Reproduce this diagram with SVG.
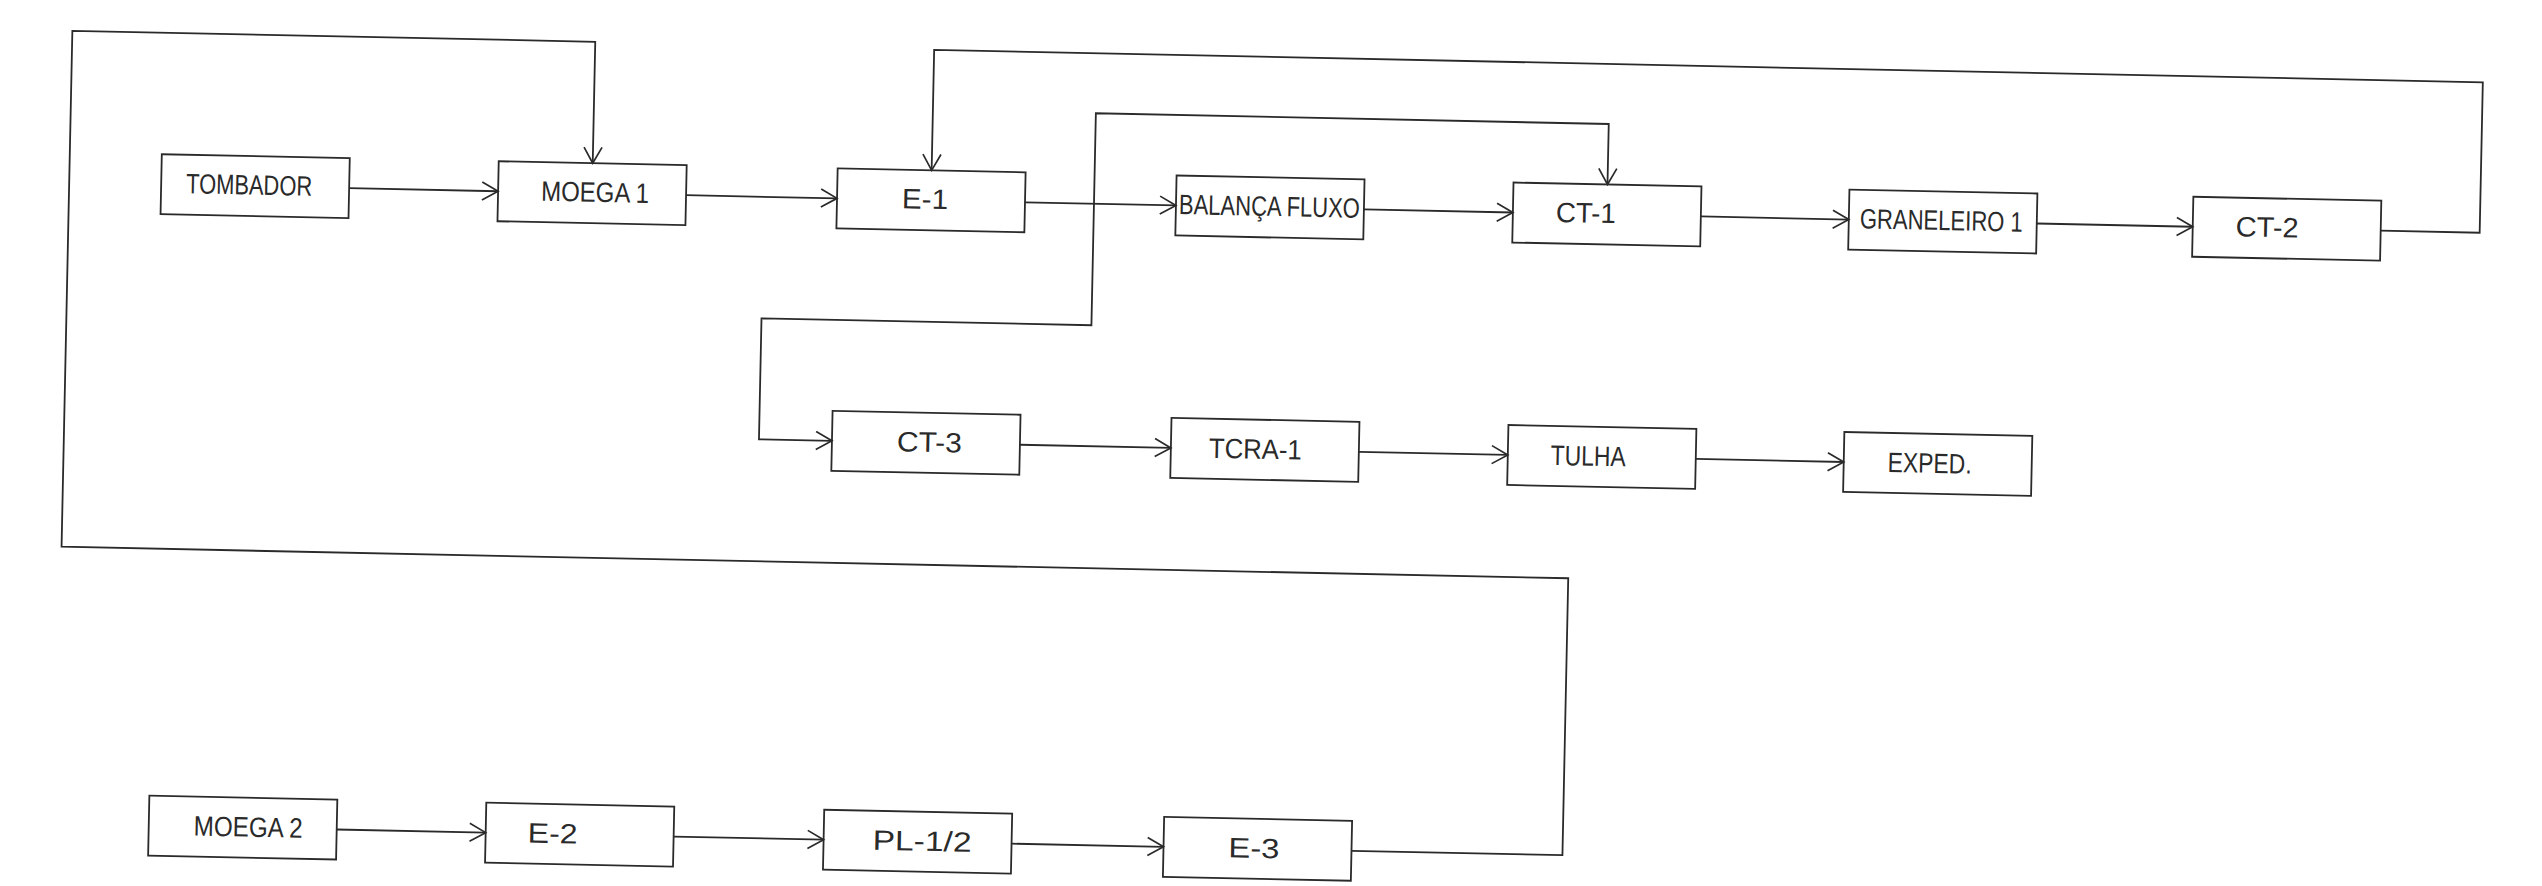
<svg xmlns="http://www.w3.org/2000/svg" width="2542" height="886" viewBox="0 0 2542 886">
<style>
.box{fill:none;stroke:#2a2a2a;stroke-width:1.8}
.lbl{font-family:"Liberation Sans",Arial,sans-serif;font-size:28px;fill:#2a2a2a}
.con{fill:none;stroke:#2a2a2a;stroke-width:1.8}
</style>
<defs>
<marker id="arr" markerUnits="userSpaceOnUse" viewBox="-19 -11 21 22" refX="0" refY="0" markerWidth="21" markerHeight="22" orient="auto-start-reverse">
<path d="M-16,-9 L0,0 L-16,9" fill="none" stroke="#2a2a2a" stroke-width="1.7"/>
</marker>
</defs>
<rect width="2542" height="886" fill="#fff"/>
<g transform="rotate(1.2 1271 443)">
<g id="connectors">
<path class="con" marker-end="url(#arr)" d="M344,207.5 H493"/>
<path class="con" marker-end="url(#arr)" d="M681,207.5 H832"/>
<path class="con" marker-end="url(#arr)" d="M1020,207.5 H1171"/>
<path class="con" marker-end="url(#arr)" d="M1359,207.5 H1508"/>
<path class="con" marker-end="url(#arr)" d="M1696,207.5 H1844"/>
<path class="con" marker-end="url(#arr)" d="M2032,207.5 H2188"/>
<path class="con" marker-end="url(#arr)" d="M1020,450 H1171"/>
<path class="con" marker-end="url(#arr)" d="M1359,450 H1508"/>
<path class="con" marker-end="url(#arr)" d="M1696,450 H1844"/>
<path class="con" marker-end="url(#arr)" d="M345,849 H494"/>
<path class="con" marker-end="url(#arr)" d="M682,849 H832"/>
<path class="con" marker-end="url(#arr)" d="M1020,849 H1172"/>
<path class="con" marker-end="url(#arr)" d="M2376,207.5 H2475 V57 H926 V177.5"/>
<path class="con" marker-start="url(#arr)" marker-end="url(#arr)" d="M832,450 H759 V329 H1089 V117 H1602 V177.5"/>
<path class="con" marker-end="url(#arr)" d="M1360,849 H1571 V572 H64 V56 H587 V177.5"/>
</g>
<g id="tombador"><rect class="box" x="156" y="177.5" width="188" height="60"/><text class="lbl" x="181" y="216" textLength="126" lengthAdjust="spacingAndGlyphs">TOMBADOR</text></g>
<g id="moega1"><rect class="box" x="493" y="177.5" width="188" height="60"/><text class="lbl" x="536" y="216" textLength="108" lengthAdjust="spacingAndGlyphs">MOEGA  1</text></g>
<g id="e1"><rect class="box" x="832" y="177.5" width="188" height="60"/><text class="lbl" x="897" y="216" textLength="46" lengthAdjust="spacingAndGlyphs">E-1</text></g>
<g id="balanca"><rect class="box" x="1171" y="177.5" width="188" height="60"/><text class="lbl" x="1174" y="216" textLength="181" lengthAdjust="spacingAndGlyphs">BALANÇA  FLUXO</text></g>
<g id="ct1"><rect class="box" x="1508" y="177.5" width="188" height="60"/><text class="lbl" x="1551" y="216" textLength="60" lengthAdjust="spacingAndGlyphs">CT-1</text></g>
<g id="graneleiro1"><rect class="box" x="1844" y="177.5" width="188" height="60"/><text class="lbl" x="1855" y="216" textLength="163" lengthAdjust="spacingAndGlyphs">GRANELEIRO  1</text></g>
<g id="ct2"><rect class="box" x="2188" y="177.5" width="188" height="60"/><text class="lbl" x="2231" y="216" textLength="63" lengthAdjust="spacingAndGlyphs">CT-2</text></g>
<g id="ct3"><rect class="box" x="832" y="420" width="188" height="60"/><text class="lbl" x="897" y="459" textLength="65" lengthAdjust="spacingAndGlyphs">CT-3</text></g>
<g id="tcra1"><rect class="box" x="1171" y="420" width="188" height="60"/><text class="lbl" x="1209" y="459" textLength="93" lengthAdjust="spacingAndGlyphs">TCRA-1</text></g>
<g id="tulha"><rect class="box" x="1508" y="420" width="188" height="60"/><text class="lbl" x="1551" y="459" textLength="75" lengthAdjust="spacingAndGlyphs">TULHA</text></g>
<g id="exped"><rect class="box" x="1844" y="420" width="188" height="60"/><text class="lbl" x="1888" y="459" textLength="84" lengthAdjust="spacingAndGlyphs">EXPED.</text></g>
<g id="moega2"><rect class="box" x="157" y="819" width="188" height="60"/><text class="lbl" x="202" y="858" textLength="109" lengthAdjust="spacingAndGlyphs">MOEGA  2</text></g>
<g id="e2"><rect class="box" x="494" y="819" width="188" height="60"/><text class="lbl" x="536" y="858" textLength="50" lengthAdjust="spacingAndGlyphs">E-2</text></g>
<g id="pl12"><rect class="box" x="832" y="819" width="188" height="60"/><text class="lbl" x="881" y="858" textLength="99" lengthAdjust="spacingAndGlyphs">PL-1/2</text></g>
<g id="e3"><rect class="box" x="1172" y="819" width="188" height="60"/><text class="lbl" x="1237" y="858" textLength="51" lengthAdjust="spacingAndGlyphs">E-3</text></g>
</g>
</svg>
